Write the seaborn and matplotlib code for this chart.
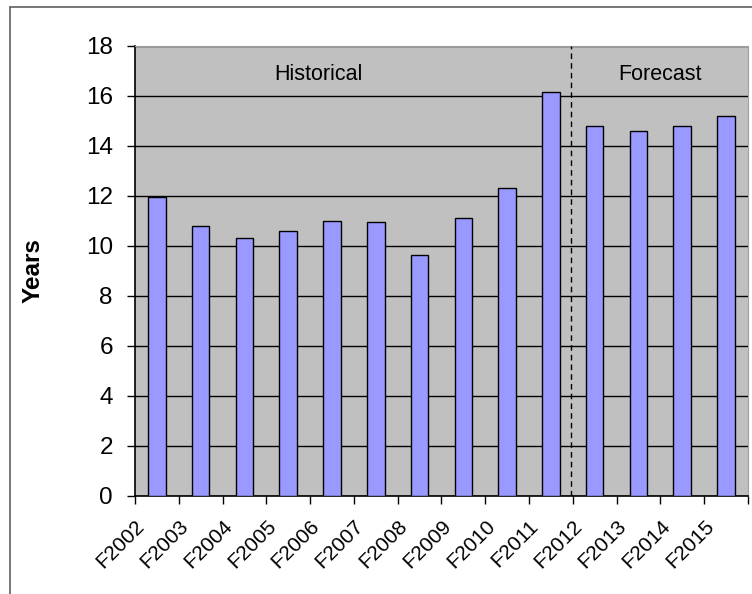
import numpy as np
import pandas as pd
import seaborn as sns
import matplotlib.pyplot as plt
from matplotlib.lines import Line2D

# --- data ---
years = ['F2002', 'F2003', 'F2004', 'F2005', 'F2006', 'F2007', 'F2008',
         'F2009', 'F2010', 'F2011', 'F2012', 'F2013', 'F2014', 'F2015']
values = [11.95, 10.8, 10.3, 10.6, 11.0, 10.95, 9.65,
          11.1, 12.33, 16.17, 14.8, 14.58, 14.8, 15.18]
y_ticks = [0, 2, 4, 6, 8, 10, 12, 14, 16, 18]

df = pd.DataFrame({'year': years, 'years': values})

sns.set_style('white')
plt.rcParams['font.family'] = ['Liberation Sans', 'DejaVu Sans']
plt.rcParams['text.color'] = 'black'
plt.rcParams['xtick.color'] = 'black'
plt.rcParams['ytick.color'] = 'black'
plt.rcParams['axes.labelcolor'] = 'black'

fig = plt.figure(figsize=(7.52, 5.94), dpi=100)
ax = fig.add_axes([0.1795, 0.165, 0.815, 0.7576])
ax.set_facecolor('#c0c0c0')

sns.barplot(data=df, x='year', y='years', color='#9999ff', saturation=1,
            width=0.4, edgecolor='black', linewidth=1, ax=ax, zorder=3)

# gridlines
ax.set_yticks(y_ticks)
ax.set_ylim(0, 18)
ax.grid(axis='y', color='black', linewidth=1)
ax.set_axisbelow(True)

# category ticks at the boundaries, labels rotated
n = len(years)
ax.set_xlim(-0.5, n - 0.5)
ax.set_xticks(np.arange(n + 1) - 0.5)
ax.set_xticklabels(years + [''], rotation=45, ha='right', va='top',
                   rotation_mode='anchor', fontsize=15)
ax.tick_params(axis='x', length=6, width=1, pad=9, bottom=True)
ax.tick_params(axis='y', length=6, width=1, labelsize=17.5, left=True, pad=10)

ax.set_xlabel('')
ax.set_ylabel('Years', fontsize=17.5, fontweight='bold')
ax.yaxis.set_label_coords(-0.148, 0.5)

for s in ['top', 'right']:
    ax.spines[s].set_color('#a0a0a0')
for s in ['left', 'bottom']:
    ax.spines[s].set_color('black')
    ax.spines[s].set_linewidth(1.2)

# historical / forecast split
ax.axvline(9.45, color='black', linestyle=(0, (4, 3)), linewidth=1, zorder=4)
ax.text(3.68, 16.85, 'Historical', ha='center', va='center', fontsize=15.5)
ax.text(11.5, 16.85, 'Forecast', ha='center', va='center', fontsize=15.5)

# outer frame of the original chart area
fig.add_artist(Line2D([10 / 752, 1], [1 - 7 / 594, 1 - 7 / 594], color='#606060', linewidth=1.2))
fig.add_artist(Line2D([10 / 752, 10 / 752], [0, 1 - 7 / 594], color='#606060', linewidth=1.2))

fig.savefig('out.png', dpi=100)
